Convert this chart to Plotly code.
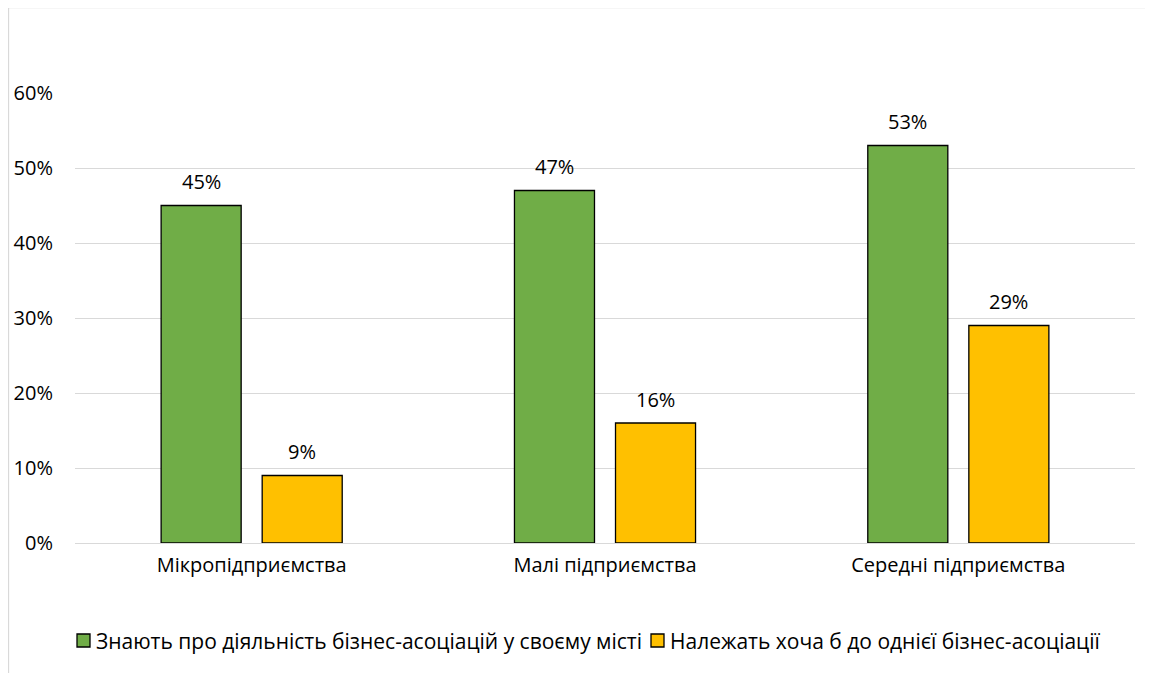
import plotly.graph_objects as go

categories = ["Мікропідприємства", "Малі підприємства", "Середні підприємства"]
series_names = ["Знають про діяльність бізнес-асоціацій у своєму місті",
                "Належать хоча б до однієї бізнес-асоціації"]
know_values = [45, 47, 53]
belong_values = [9, 16, 29]
tick_vals = [0, 10, 20, 30, 40, 50, 60]
tick_text = ["0%", "10%", "20%", "30%", "40%", "50%", "60%"]
colors = ["#70AD47", "#FFC000"]

FONT = "'Open Sans', sans-serif"
FS = 20
LFS = 21

# page offset (body margin) and plot-area geometry in page pixels
OFF = 8
PL, PR, PT, PB = 75, 1135, 93, 543
PW, PH = PR - PL, PB - PT
BARGAP, GROUPGAP = 0.428, 0.208


def px(X):
    return (X - PL) / PW


def py(Y):
    return (PB - Y) / PH


fig = go.Figure()
for name, vals, col in [(series_names[0], know_values, colors[0]),
                        (series_names[1], belong_values, colors[1])]:
    fig.add_trace(go.Bar(
        x=categories, y=vals, name=name,
        marker=dict(color=col, line=dict(color="#000000", width=1.3)),
        showlegend=False,
    ))

fig.update_layout(
    width=1153 - OFF, height=673 - OFF,
    margin=dict(l=PL - OFF, r=1153 - PR, t=PT - OFF, b=673 - PB),
    paper_bgcolor="#ffffff", plot_bgcolor="#ffffff",
    barmode="group", bargap=BARGAP, bargroupgap=GROUPGAP,
    font=dict(family=FONT, size=FS, color="#000000"),
    showlegend=False,
    xaxis=dict(showgrid=False, showline=False, ticks="", ticklabelstandoff=8,
               automargin=False,
               tickfont=dict(size=FS, family=FONT, color="#000000")),
    yaxis=dict(range=[0, 60], tickvals=tick_vals, ticktext=tick_text,
               showgrid=True, gridcolor="#d9d9d9", gridwidth=1.3,
               zeroline=True, zerolinecolor="#d9d9d9", zerolinewidth=1.3,
               showline=False, ticks="", ticklabelstandoff=21, automargin=False,
               tickfont=dict(size=FS, family=FONT, color="#000000")),
)

# value labels above bars
slot = 0.5 * (1 - BARGAP)
for si, vals in enumerate([know_values, belong_values]):
    for ci, v in enumerate(vals):
        xoff = (-0.5 + si) * slot
        fig.add_annotation(x=ci + xoff, y=v, xref="x", yref="y", text=f"{v}%",
                           showarrow=False, yanchor="middle", yshift=24,
                           font=dict(size=FS, family=FONT, color="#000000"))

# manual legend
legend_items = [(series_names[0], colors[0], 77, 94), (series_names[1], colors[1], 651, 668)]
for name, col, sx, tx in legend_items:
    fig.add_shape(type="rect", xref="paper", yref="paper",
                  x0=px(sx), x1=px(sx + 13), y0=py(647), y1=py(634),
                  fillcolor=col, line=dict(color="#000000", width=1.3))
    fig.add_annotation(x=px(tx), y=py(640.5), xref="paper", yref="paper", text=name,
                       showarrow=False, xanchor="left", yanchor="middle",
                       font=dict(size=LFS, family=FONT, color="#000000"))

# chart frame
fig.add_shape(type="rect", xref="paper", yref="paper",
              x0=px(8.5), x1=px(1170), y0=py(690), y1=py(7.5),
              line=dict(color="#d9d9d9", width=1.3), fillcolor="rgba(0,0,0,0)",
              layer="below")

fig.write_html("out.html")
